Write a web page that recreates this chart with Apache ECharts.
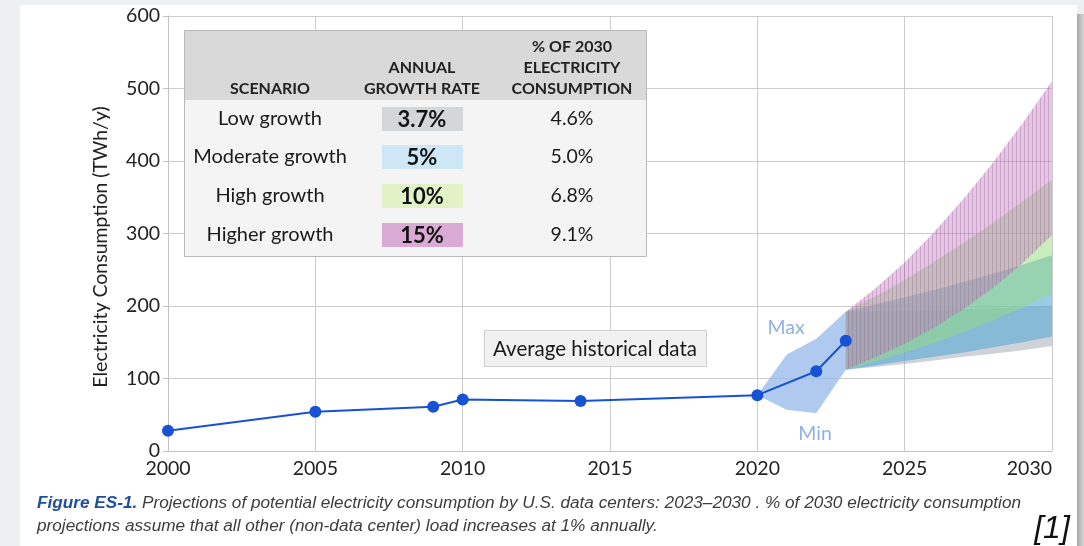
<!DOCTYPE html>
<html>
<head>
<meta charset="utf-8">
<script src="https://cdn.jsdelivr.net/npm/echarts@6/dist/echarts.min.js"></script>
<style>
  html, body { margin: 0; padding: 0; background: #edf0f3; }
  #card { position: absolute; left: 20px; top: 5px; width: 1057px; height: 541px; background: #fff; }
  #edge { position: absolute; left: 1077px; top: 14px; width: 7px; height: 532px; background: linear-gradient(90deg, #a7a7a7, #d4d6d8); }
  #main { position: absolute; left: 0; top: 0; width: 1084px; height: 546px; }
</style>
</head>
<body>
<div id="card"></div>
<div id="edge"></div>
<div id="main"></div>
<script>
// historical average (TWh/y)
var histYears = [2000, 2005, 2009, 2010, 2014, 2020, 2022, 2023];
var histValues = [28, 54, 61, 71, 69, 77, 110, 152];

// min / max envelope of the recent years
var rangeYears = [2020, 2021, 2022, 2023];
var rangeMin = [77, 57, 52, 112];
var rangeMax = [77, 133, 155, 192];

// projection fans 2023-2030
var projYears = [2023, 2024, 2025, 2026, 2027, 2028, 2029, 2030];
var lowLower = [112, 116, 120, 125, 130, 134, 139, 145];
var lowUpper = [192, 193, 194, 195, 196, 197, 198, 200];
var modLower = [112, 118, 124, 130, 136, 143, 150, 158];
var modUpper = [192, 202, 212, 222, 233, 245, 257, 270];
var highLower = [112, 123, 136, 149, 164, 180, 198, 218];
var highUpper = [192, 213, 236, 261, 287, 315, 344, 374];
var higherLower = [112, 129, 148, 170, 196, 225, 259, 298];
var higherUpper = [192, 224, 260, 302, 348, 398, 452, 510];

// table
var scenarios = ["Low growth", "Moderate growth", "High growth", "Higher growth"];
var growthRates = ["3.7%", "5%", "10%", "15%"];
var shares2030 = ["4.6%", "5.0%", "6.8%", "9.1%"];
var rateColors = ["#d3d7da", "#cde7f7", "#e1f2c7", "#d9aad4"];

var yTicks = [0, 100, 200, 300, 400, 500, 600];

var FONT = "Lato";

function stripes(base, line) {
  var c = document.createElement("canvas");
  c.width = 4;
  c.height = 4;
  var ctx = c.getContext("2d");
  ctx.fillStyle = base;
  ctx.fillRect(0, 0, 4, 4);
  ctx.fillStyle = line;
  ctx.fillRect(0, 0, 1, 4);
  return c;
}

function band(xs, lo, hi, fill, z) {
  return {
    type: "custom",
    silent: true,
    z: z,
    data: xs.map(function (x, i) { return [x, lo[i], hi[i]]; }),
    encode: { x: 0, y: [1, 2] },
    renderItem: function (params, api) {
      if (params.dataIndex !== 0) return null;
      var top = xs.map(function (x, i) { return api.coord([x, hi[i]]); });
      var bot = xs.map(function (x, i) { return api.coord([x, lo[i]]); }).reverse();
      return {
        type: "polygon",
        shape: { points: top.concat(bot) },
        style: { fill: fill }
      };
    }
  };
}

var chart = echarts.init(document.getElementById("main"));

var graphics = [];
// table box
graphics.push({ type: "rect", z: 100, shape: { x: 184.5, y: 30.5, width: 462, height: 226 },
  style: { fill: "#f4f4f4", stroke: "#b9b9b9", lineWidth: 1 } });
graphics.push({ type: "rect", z: 101, shape: { x: 185, y: 31, width: 461, height: 69 },
  style: { fill: "#d9d9d9" } });
var headStyle = { fontFamily: FONT, fontWeight: "bold", fontSize: 16, fill: "#222", align: "center", verticalAlign: "middle" };
function headText(t, x, y) {
  graphics.push({ type: "text", z: 102, x: x, y: y, style: Object.assign({ text: t }, headStyle) });
}
headText("SCENARIO", 270, 89);
headText("ANNUAL", 422, 68);
headText("GROWTH RATE", 422, 89);
headText("% OF 2030", 572, 47);
headText("ELECTRICITY", 572, 68);
headText("CONSUMPTION", 572, 89);
var rowY = [119, 157, 196, 235];
scenarios.forEach(function (s, i) {
  graphics.push({ type: "text", z: 102, x: 270, y: rowY[i],
    style: { text: s, fontFamily: FONT, fontSize: 20, fill: "#1a1a1a", align: "center", verticalAlign: "middle" } });
  graphics.push({ type: "rect", z: 101, shape: { x: 382, y: rowY[i] - 12, width: 81, height: 24 },
    style: { fill: rateColors[i] } });
  graphics.push({ type: "text", z: 102, x: 422, y: rowY[i] + 1,
    style: { text: growthRates[i], fontFamily: FONT, fontWeight: "bold", fontSize: 22, fill: "#111", align: "center", verticalAlign: "middle" } });
  graphics.push({ type: "text", z: 102, x: 572, y: rowY[i],
    style: { text: shares2030[i], fontFamily: FONT, fontSize: 19.5, fill: "#1a1a1a", align: "center", verticalAlign: "middle" } });
});
// average historical data label
graphics.push({ type: "rect", z: 100, shape: { x: 484.5, y: 330.5, width: 222, height: 36 },
  style: { fill: "#f1f1f1", stroke: "#cfcfcf", lineWidth: 1 } });
graphics.push({ type: "text", z: 101, x: 595, y: 349,
  style: { text: "Average historical data", fontFamily: FONT, fontSize: 20.5, fill: "#1a1a1a", align: "center", verticalAlign: "middle" } });
// max / min
graphics.push({ type: "text", z: 101, x: 786, y: 328,
  style: { text: "Max", fontFamily: FONT, fontSize: 19.5, fill: "#8fb1e6", align: "center", verticalAlign: "middle" } });
graphics.push({ type: "text", z: 101, x: 815, y: 434,
  style: { text: "Min", fontFamily: FONT, fontSize: 19.5, fill: "#8fb1e6", align: "center", verticalAlign: "middle" } });
// y axis title
graphics.push({ type: "text", z: 101, x: 101, y: 247, rotation: Math.PI / 2,
  style: { text: "Electricity Consumption (TWh/y)", fontFamily: FONT, fontSize: 19.5, fill: "#222", align: "center", verticalAlign: "middle" } });
// caption
graphics.push({ type: "text", z: 101, x: 37, y: 503,
  style: {
    text: "{b|Figure ES-1.} Projections of potential electricity consumption by U.S. data centers: 2023\u20132030 . % of 2030 electricity consumption",
    fontFamily: "Liberation Sans", fontStyle: "italic", fontSize: 17.2, fill: "#3d3d3d", verticalAlign: "middle",
    rich: { b: { fontFamily: "Liberation Sans", fontStyle: "italic", fontWeight: "bold", fontSize: 17.2, fill: "#1f4f9d" } }
  } });
graphics.push({ type: "text", z: 101, x: 37, y: 526,
  style: { text: "projections assume that all other (non-data center) load increases at 1% annually.",
    fontFamily: "Liberation Sans", fontStyle: "italic", fontSize: 17.2, fill: "#3d3d3d", verticalAlign: "middle" } });
graphics.push({ type: "text", z: 101, x: 1052, y: 529,
  style: { text: "[1]", fontFamily: "Liberation Sans", fontStyle: "italic", fontSize: 32, fill: "#111", align: "center", verticalAlign: "middle" } });

var option = {
  animation: false,
  grid: { left: 168, right: 32, top: 16, bottom: 95 },
  xAxis: {
    type: "value",
    min: 2000,
    max: 2030,
    interval: 5,
    axisLine: { show: true, lineStyle: { color: "#c4c4c4" } },
    axisTick: { show: false },
    axisLabel: { color: "#222", fontFamily: FONT, fontSize: 19.5, margin: 8, alignMaxLabel: "right",
      formatter: function (v) { return String(v); } },
    splitLine: { show: true, lineStyle: { color: "#cccccc" } }
  },
  yAxis: {
    type: "value",
    min: yTicks[0],
    max: yTicks[yTicks.length - 1],
    interval: 100,
    axisLine: { show: true, lineStyle: { color: "#c4c4c4" } },
    axisTick: { show: true, length: 5, lineStyle: { color: "#c4c4c4" } },
    axisLabel: { color: "#222", fontFamily: FONT, fontSize: 19.5, margin: 8 },
    splitLine: { show: true, lineStyle: { color: "#cccccc" } }
  },
  graphic: { elements: graphics },
  series: [
    band(rangeYears, rangeMin, rangeMax, "rgba(150,183,232,0.75)", 2),
    band(projYears, lowLower, lowUpper, "rgba(160,166,175,0.5)", 3),
    band(projYears, modLower, modUpper, "rgba(90,172,215,0.62)", 4),
    band(projYears, highLower, highUpper, "rgba(150,220,125,0.5)", 5),
    band(projYears, higherLower, higherUpper, { image: stripes("rgba(195,120,190,0.42)", "rgba(140,90,140,0.3)"), repeat: "repeat" }, 6),
    {
      type: "line",
      z: 10,
      data: histYears.map(function (x, i) { return [x, histValues[i]]; }),
      symbol: "circle",
      symbolSize: 12,
      lineStyle: { color: "#1652d3", width: 2 },
      itemStyle: { color: "#1652d3" }
    }
  ]
};
chart.setOption(option);
</script>
</body>
</html>
